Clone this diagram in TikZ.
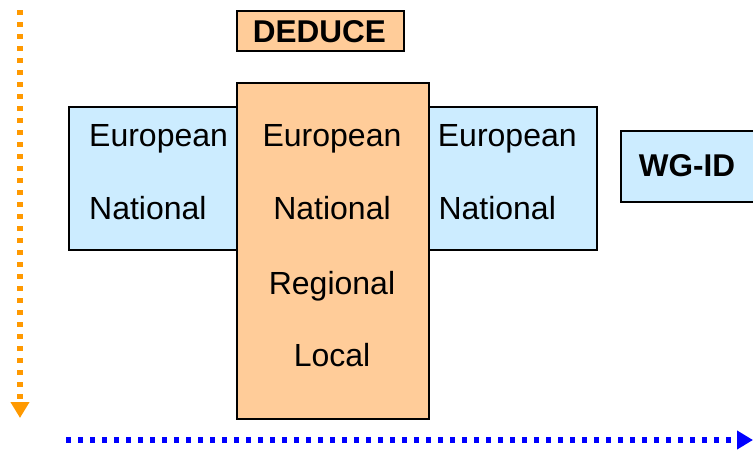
\documentclass[tikz,border=0pt]{standalone}
\usepackage{fontspec}
\setmainfont{Liberation Sans}
\usetikzlibrary{arrows.meta}
\definecolor{peach}{HTML}{FFCC99}
\definecolor{lblue}{HTML}{CCECFF}
\definecolor{aorange}{HTML}{FF9900}
\begin{document}
\begin{tikzpicture}[x=1pt,y=-1pt,
  box/.style={draw=black,line width=2pt,inner sep=0pt,anchor=north west},
  lbl/.style={font=\fontsize{32}{32}\selectfont,inner sep=0pt},
  blbl/.style={font=\fontsize{31.5}{32}\selectfont\bfseries,inner sep=0pt},
  dotarrow/.style={line width=5.5pt,dash pattern=on 5pt off 7pt,-{Triangle[width=18pt,length=16pt]}}]
\useasboundingbox (0,0) rectangle (753,450);
\begin{scope}
\clip (0,0) rectangle (753,450);
% boxes
\node[box,fill=lblue,minimum width=168pt,minimum height=143pt] (lb) at (68,106) {};
\node[box,fill=lblue,minimum width=168pt,minimum height=143pt] (rb) at (428,106) {};
\node[box,fill=peach,minimum width=192pt,minimum height=336pt] (cb) at (236,82) {};
\node[box,fill=peach,minimum width=167pt,minimum height=40pt] (ded) at (236,10) {};
\node[box,fill=lblue,minimum width=140pt,minimum height=71pt] (wg) at (620,130) {};
% labels
\node[blbl,anchor=base] (dedt) at (319.5,42) {DEDUCE};
\node[blbl,anchor=base] (wgt) at (687,176) {WG-ID};
\node[lbl,anchor=base west] (l1) at (89,146.7) {European};
\node[lbl,anchor=base west] (l2) at (89,219.3) {National};
\node[lbl,anchor=base] (c1) at (332,146.7) {European};
\node[lbl,anchor=base] (c2) at (332,219.3) {National};
\node[lbl,anchor=base] (c3) at (332,294) {Regional};
\node[lbl,anchor=base] (c4) at (332,366.7) {Local};
\node[lbl,anchor=base west] (r1) at (437.7,146.7) {European};
\node[lbl,anchor=base west] (r2) at (438.3,219.3) {National};
% arrows
\coordinate (vs) at (20,10);
\coordinate (ve) at (20,418);
\coordinate (hs) at (66,440);
\coordinate (he) at (753,440);
\draw[dotarrow,aorange] (vs) -- (ve);
\draw[dotarrow,blue] (hs) -- (he);
\end{scope}
\end{tikzpicture}
\end{document}
